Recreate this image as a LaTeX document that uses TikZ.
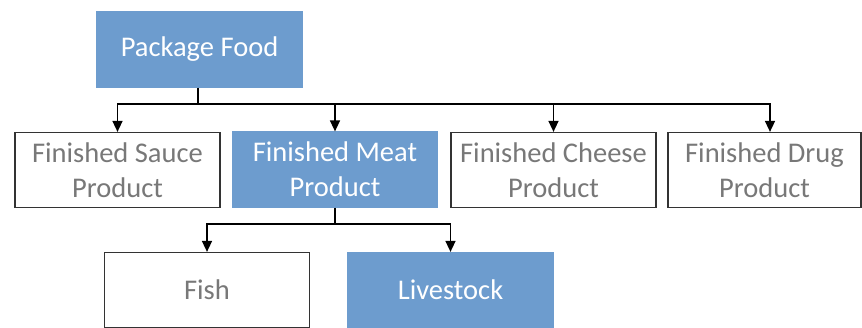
\documentclass[tikz,border=0pt]{standalone}
\usepackage{fontspec}
\setmainfont{Carlito}
\usepackage{tikz}
\usetikzlibrary{arrows.meta}
\usetikzlibrary{positioning, calc}
\usepackage{xcolor}
\definecolor{boxblue}{RGB}{109,156,206}
\definecolor{boxgray}{RGB}{120,120,120}

\tikzset{
  plainbox/.style={rectangle, draw=black!80, line width=1.2pt, fill=white, text=boxgray,
    minimum width=205pt, minimum height=75pt, align=center, inner sep=0pt,
    font=\fontsize{28.5}{35}\selectfont},
  bluebox/.style={plainbox, draw=boxblue, fill=boxblue, text=white},
  wire/.style={line width=1.5pt, black},
  tip/.style={wire, -{Triangle[length=11pt, width=10pt]}},
}

\begin{document}
\begin{tikzpicture}[x=1pt, y=-1pt]
      \useasboundingbox (0, 0) rectangle (862, 328);

      \node[bluebox] (pkg) at (199.5, 49.5) {Package Food};

      \node[plainbox] (sauce) at (117.5, 170) {Finished Sauce\\Product};
      \node[bluebox] (meat) at (335, 169.5) {Finished Meat\\Product};
      \node[plainbox] (cheese) at (553.5, 170) {Finished Cheese\\Product};
      \node[plainbox, minimum width=193pt] (drug) at (764.5, 170) {Finished Drug\\Product};

      \node[plainbox] (fish) at (207, 290) {Fish};
      \node[bluebox] (stock) at (450.5, 290) {Livestock};

      \coordinate (bus) at (198, 104);
      \coordinate (meatbus) at (335, 224);

      \draw[wire] (pkg.south -| bus) -- (bus);
      \draw[tip] (bus) -| (sauce.north);
      \draw[tip] (bus) -| (meat.north);
      \draw[tip] (bus) -| (cheese.north);
      \draw[tip] (bus) -| ($(drug.north)+(5.5, 0)$);

      \draw[wire] (meat.south) -- (meatbus);
      \draw[tip] (meatbus) -| (fish.north);
      \draw[tip] (meatbus) -| (stock.north);

    \end{tikzpicture}
\end{document}
